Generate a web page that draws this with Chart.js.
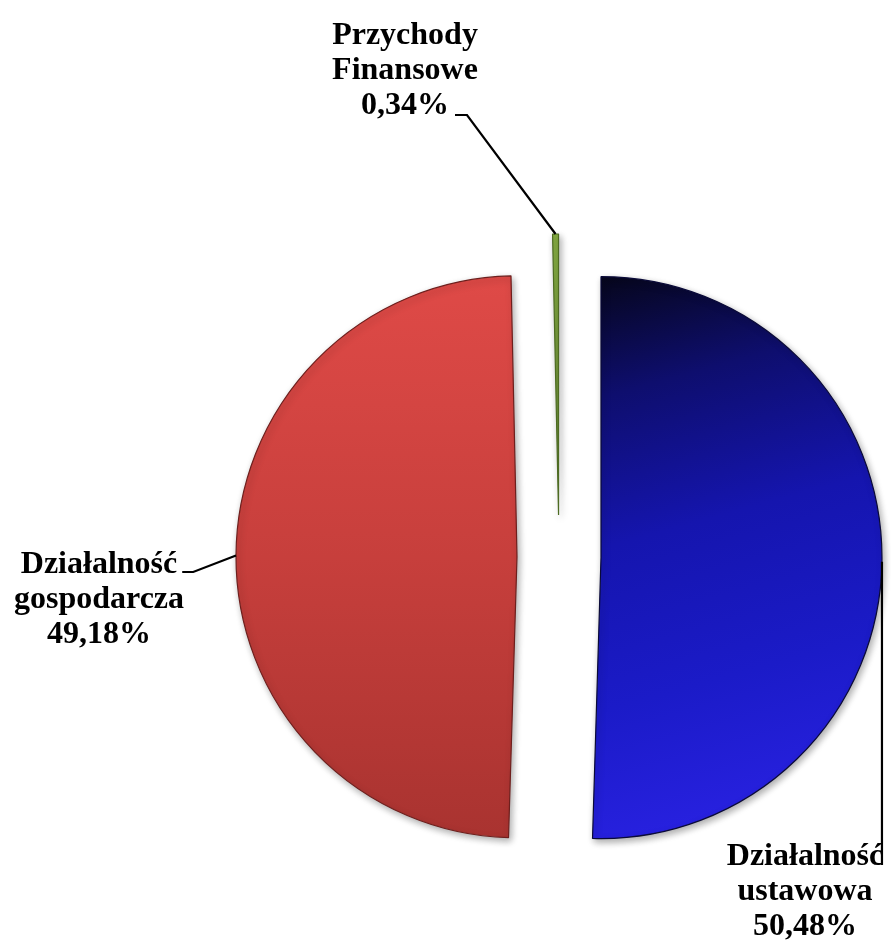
<!DOCTYPE html>
<html lang="pl">
<head>
<meta charset="utf-8">
<title>Struktura przychodów</title>
<script src="https://cdn.jsdelivr.net/npm/chart.js@4/dist/chart.umd.min.js"></script>
<style>
  html, body { margin: 0; padding: 0; background: #ffffff; }
  #wrap { width: 891px; height: 944px; }
  canvas { display: block; }
</style>
</head>
<body>
<div id="wrap"><canvas id="chart" width="891" height="944"></canvas></div>
<script>
// Revenue structure (share of total, %)
const categories = ['Działalność ustawowa', 'Działalność gospodarcza', 'Przychody Finansowe'];
const shares = [50.48, 49.18, 0.34];

// Slice outlines
const sliceBorders = ['#0a0a38', '#6e1f1d', '#4d6b22'];

// Exploded-pie geometry
const EXPLODE = 42;       // distance each slice is pulled out along its middle angle
const PIE_RADIUS = 281;

// Label blocks: centre x, first baseline, leader style
const LABEL_FONT = 'bold 32px "Liberation Serif", "Times New Roman", serif';
const LINE_HEIGHT = 35;
const labelLayout = [
  { cx: 805, y: 865, leader: 'down' },
  { cx: 99,  y: 573, leader: 'elbow', lineIdx: 0, gap: 5, run: 11 },
  { cx: 405, y: 44,  leader: 'elbow', lineIdx: 2, gap: 6, run: 12, dy: 2 }
];

function formatShare(v) {
  return v.toFixed(2).replace('.', ',') + '%';
}

// Pie controller that draws every slice pulled out from the centre by EXPLODE pixels
const BasePie = Chart.PieController || Chart.registry.getController('pie');
class ExplodedPieController extends BasePie {
  draw() {
    const ctx = this.chart.ctx;
    const area = this.chart.chartArea;
    this._cachedMeta.data.forEach(arc => {
      const mid = (arc.startAngle + arc.endAngle) / 2;
      ctx.save();
      ctx.translate(Math.cos(mid) * EXPLODE, Math.sin(mid) * EXPLODE);
      arc.draw(ctx, area);
      ctx.restore();
    });
  }
}
ExplodedPieController.id = 'explodedPie';
Chart.register(ExplodedPieController);

function sliceFill(context) {
  const chart = context.chart;
  const area = chart.chartArea;
  if (!area) return '#888888';
  const c = chart.ctx;
  const cx = (area.left + area.right) / 2;
  const cy = (area.top + area.bottom) / 2;
  const R = PIE_RADIUS;
  let g;
  if (context.dataIndex === 0) {
    g = c.createLinearGradient(cx, cy - R, cx + 0.55 * R, cy + R);
    g.addColorStop(0, '#06061c');
    g.addColorStop(0.2, '#0e0e6e');
    g.addColorStop(0.45, '#1515ae');
    g.addColorStop(0.72, '#1b1bc8');
    g.addColorStop(1, '#2a22e4');
  } else if (context.dataIndex === 1) {
    g = c.createLinearGradient(cx, cy - R, cx, cy + R);
    g.addColorStop(0, '#df4a47');
    g.addColorStop(0.5, '#c73f3c');
    g.addColorStop(1, '#a93330');
  } else {
    g = c.createLinearGradient(cx, cy - R, cx, cy);
    g.addColorStop(0, '#86ad43');
    g.addColorStop(1, '#5f8030');
  }
  return g;
}

// Outer point of a slice on its middle angle, after the pull-out
function outerPoint(arc) {
  const mid = (arc.startAngle + arc.endAngle) / 2;
  const r = arc.outerRadius + EXPLODE;
  return { x: arc.x + Math.cos(mid) * r, y: arc.y + Math.sin(mid) * r };
}

const sliceShadow = {
  id: 'sliceShadow',
  beforeDatasetsDraw(chart) {
    const c = chart.ctx;
    c.save();
    c.shadowColor = 'rgba(0,0,0,0.33)';
    c.shadowBlur = 7;
    c.shadowOffsetX = 2;
    c.shadowOffsetY = 3;
  },
  afterDatasetsDraw(chart) {
    chart.ctx.restore();
  }
};

const sliceLabels = {
  id: 'sliceLabels',
  afterDraw(chart) {
    const c = chart.ctx;
    const arcs = chart.getDatasetMeta(0).data;
    c.save();
    c.font = LABEL_FONT;
    c.fillStyle = '#000000';
    c.textAlign = 'center';
    c.textBaseline = 'alphabetic';
    c.strokeStyle = '#000000';
    c.lineWidth = 2.2;
    arcs.forEach((arc, i) => {
      const lay = labelLayout[i];
      const lines = categories[i].split(' ').concat([formatShare(shares[i])]);
      lines.forEach((t, k) => c.fillText(t, lay.cx, lay.y + k * LINE_HEIGHT));
      const p = outerPoint(arc);
      c.beginPath();
      if (lay.leader === 'down') {
        c.moveTo(p.x, p.y);
        c.lineTo(p.x, lay.y);
      } else {
        const t = lines[lay.lineIdx];
        const w = c.measureText(t).width;
        const ly = lay.y + lay.lineIdx * LINE_HEIGHT - 1 + (lay.dy || 0);
        const x0 = lay.cx + w / 2 + lay.gap;
        c.moveTo(x0, ly);
        c.lineTo(x0 + lay.run, ly);
        c.lineTo(p.x, p.y);
      }
      c.stroke();
    });
    c.restore();
  }
};

new Chart(document.getElementById('chart'), {
  type: 'explodedPie',
  data: {
    labels: categories,
    datasets: [{
      data: shares,
      backgroundColor: sliceFill,
      borderColor: sliceBorders,
      borderWidth: 1.2,
      hoverOffset: 0
    }]
  },
  options: {
    responsive: false,
    devicePixelRatio: 1,
    animation: false,
    events: [],
    radius: PIE_RADIUS,
    layout: { padding: { left: 227, top: 170, right: 0, bottom: 0 } },
    plugins: {
      legend: { display: false },
      tooltip: { enabled: false },
      title: { display: false }
    }
  },
  plugins: [sliceShadow, sliceLabels]
});
</script>
</body>
</html>
